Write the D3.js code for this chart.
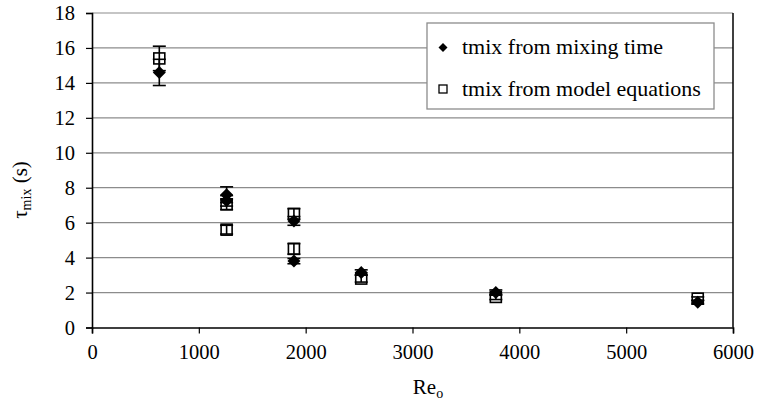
<!DOCTYPE html>
<html>
<head>
<meta charset="utf-8">
<script src="https://cdn.jsdelivr.net/npm/d3@7"></script>
<style>
  body { margin: 0; background: #fff; }
  svg { display: block; font-family: "Liberation Serif", "Times New Roman", serif; }
</style>
</head>
<body>
<svg id="chart" width="758" height="405"></svg>
<script>
// values
const xTicks = [0, 1000, 2000, 3000, 4000, 5000, 6000];
const yTicks = [0, 2, 4, 6, 8, 10, 12, 14, 16, 18];

// tmix from mixing time (filled diamonds)
const mixX = [630, 1260, 1260, 1890, 1890, 2520, 3780, 5670];
const mixY = [14.6, 7.6, 7.25, 6.1, 3.8, 3.15, 2.0, 1.45];
const mixErr = [0.75, 0.45, 0.3, 0.25, 0.15, 0.15, 0.15, 0.1];

// tmix from model equations (open squares)
const modX = [630, 1260, 1260, 1890, 1890, 2520, 3780, 5670];
const modY = [15.4, 7.05, 5.6, 6.5, 4.5, 2.8, 1.75, 1.65];
const modErr = [0.7, 0.3, 0.25, 0.3, 0.3, 0.2, 0.15, 0.1];

const seriesNames = ['tmix from mixing time', 'tmix from model equations'];

const svg = d3.select('#chart');
const plot = { left: 92, top: 13, right: 733, bottom: 327.5 };

const x = d3.scaleLinear().domain([0, 6000]).range([plot.left, plot.right]);
const y = d3.scaleLinear().domain([0, 18]).range([plot.bottom, plot.top]);

const mix = mixX.map((v, i) => ({ x: v, y: mixY[i], e: mixErr[i] }));
const mod = modX.map((v, i) => ({ x: v, y: modY[i], e: modErr[i] }));

// gridlines
svg.append('g')
  .selectAll('line')
  .data(yTicks.filter(d => d > 0))
  .enter().append('line')
  .attr('x1', plot.left).attr('x2', plot.right)
  .attr('y1', d => y(d)).attr('y2', d => y(d))
  .attr('stroke', '#8c8c8c')
  .attr('stroke-width', 1.2);

// right border
svg.append('line')
  .attr('x1', plot.right).attr('x2', plot.right)
  .attr('y1', plot.top).attr('y2', plot.bottom)
  .attr('stroke', '#000').attr('stroke-width', 1.5);

// axes
const xAxis = svg.append('g')
  .attr('transform', `translate(0,${plot.bottom})`)
  .call(d3.axisBottom(x).tickValues(xTicks).tickSize(6).tickPadding(11).tickFormat(d3.format('d')));
const yAxis = svg.append('g')
  .attr('transform', `translate(${plot.left},0)`)
  .call(d3.axisLeft(y).tickValues(yTicks).tickSize(6).tickPadding(11).tickFormat(d3.format('d')));

[xAxis, yAxis].forEach(a => {
  a.attr('font-family', null).attr('font-size', null);
  a.select('.domain').attr('stroke', '#000').attr('stroke-width', 1.6);
  a.selectAll('.tick line').attr('stroke', '#000').attr('stroke-width', 1.2);
  a.selectAll('.tick text')
    .attr('font-size', 20.5)
    .attr('fill', '#000');
});
yAxis.selectAll('.tick text').attr('dy', '0.33em');

// open squares
const sq = 11;
svg.append('g')
  .selectAll('rect')
  .data(mod)
  .enter().append('rect')
  .attr('x', d => x(d.x) - sq / 2)
  .attr('y', d => y(d.y) - sq / 2)
  .attr('width', sq).attr('height', sq)
  .attr('fill', '#fff')
  .attr('stroke', '#000')
  .attr('stroke-width', 1.6);

// error bars for both series
const capW = 13;
const errG = svg.append('g').attr('stroke', '#000').attr('stroke-width', 1.6);
mod.concat(mix).forEach(d => {
  errG.append('line')
    .attr('x1', x(d.x)).attr('x2', x(d.x))
    .attr('y1', y(d.y - d.e)).attr('y2', y(d.y + d.e));
  [d.y - d.e, d.y + d.e].forEach(v => {
    errG.append('line')
      .attr('x1', x(d.x) - capW / 2).attr('x2', x(d.x) + capW / 2)
      .attr('y1', y(v)).attr('y2', y(v));
  });
});

// filled diamonds
const diamond = r => `M0,${-r}L${r},0L0,${r}L${-r},0Z`;
svg.append('g')
  .selectAll('path')
  .data(mix)
  .enter().append('path')
  .attr('transform', d => `translate(${x(d.x)},${y(d.y)})`)
  .attr('d', diamond(6.5))
  .attr('fill', '#000');

// legend
const lg = svg.append('g');
lg.append('rect')
  .attr('x', 427).attr('y', 23)
  .attr('width', 287).attr('height', 86)
  .attr('fill', '#fff')
  .attr('stroke', '#8c8c8c')
  .attr('stroke-width', 1.3);
lg.append('path')
  .attr('transform', 'translate(443,47.5)')
  .attr('d', diamond(4.5))
  .attr('fill', '#000');
lg.append('rect')
  .attr('x', 439).attr('y', 85)
  .attr('width', 8).attr('height', 8)
  .attr('fill', '#fff').attr('stroke', '#000').attr('stroke-width', 1.3);
lg.selectAll('text')
  .data(seriesNames)
  .enter().append('text')
  .attr('x', 462)
  .attr('y', (d, i) => 54 + i * 42)
  .attr('font-size', 22)
  .text(d => d);

// axis titles
const xt = svg.append('text')
  .attr('x', 428).attr('y', 394)
  .attr('text-anchor', 'middle')
  .attr('font-size', 21);
xt.append('tspan').text('Re');
xt.append('tspan').attr('font-size', 14).attr('dy', 4).text('o');

const yt = svg.append('text')
  .attr('transform', 'translate(27,190) rotate(-90)')
  .attr('text-anchor', 'middle')
  .attr('font-size', 21);
yt.append('tspan').text('τ');
yt.append('tspan').attr('font-size', 14).attr('dy', 4).text('mix');
yt.append('tspan').attr('dy', -4).text(' (s)');
</script>
</body>
</html>
